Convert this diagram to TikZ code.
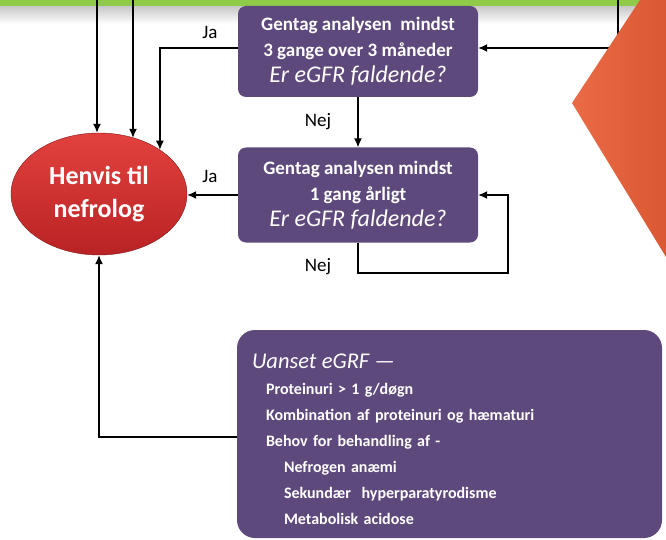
\documentclass[tikz,border=0pt]{standalone}
\usepackage{fontspec}
\setmainfont{Carlito}
\usetikzlibrary{arrows.meta,shapes.geometric}

\definecolor{boxpurple}{RGB}{94,73,125}
\definecolor{balltop}{RGB}{226,66,62}
\definecolor{ballbottom}{RGB}{185,34,36}
\definecolor{barg}{RGB}{143,203,72}
\definecolor{kite}{RGB}{232,94,54}

\newcommand{\askfont}{\fontsize{24}{26}\selectfont\mdseries\itshape}

\tikzset{
  flowbox/.style={fill=boxpurple, rounded corners=8pt, text=white, align=center, inner sep=0pt,
                  font=\fontsize{19}{26}\selectfont\bfseries},
  link/.style={line width=1.3pt, -{Latex[length=9pt,width=8pt]}},
  answer/.style={font=\fontsize{19}{22}\selectfont},
}

\begin{document}
\begin{tikzpicture}[x=1pt,y=-1pt]
\useasboundingbox (0,0) rectangle (666,540);
% top bar with shadow
\shade[top color=black!22, bottom color=white] (0,6) rectangle (666,24);
\fill[barg] (0,0) rectangle (666,6);

% boxes
\node[flowbox, minimum width=240pt, minimum height=91pt] (gentag3) at (358,51.5)
  {Gentag analysen\ \ mindst\\ 3 gange over 3 måneder\\ \askfont Er eGFR faldende?};
\node[flowbox, minimum width=240pt, minimum height=95pt] (gentag1) at (358,195)
  {Gentag analysen mindst\\ 1 gang årligt\\ \askfont Er eGFR faldende?};
\node[flowbox, rounded corners=18pt, minimum width=425pt, minimum height=208pt] (krav) at (449.5,434) {};
\node[anchor=base west, text=white, inner sep=0pt, text width=395pt, align=left,
      font=\fontsize{16}{26}\selectfont\bfseries] (kravtext) at ([xshift=15pt,yshift=-39pt]krav.north west)
  {{\fontsize{22.5}{26}\selectfont\mdseries\itshape Uanset eGRF ---}\\
   \hspace*{14pt}Proteinuri > 1 g/døgn\\
   \hspace*{14pt}Kombination af proteinuri og hæmaturi\\
   \hspace*{14pt}Behov for behandling af -\\
   \hspace*{32pt}Nefrogen anæmi\\
   \hspace*{32pt}Sekundær\ \ hyperparatyrodisme\\
   \hspace*{32pt}Metabolisk acidose};

% circle
\node[ellipse, minimum width=176pt, minimum height=122pt, draw=ballbottom!70!black,
      top color=balltop, bottom color=ballbottom, text=white, align=center,
      font=\fontsize{26}{33}\selectfont\bfseries] (henvis) at (99,194) {Henvis til\\nefrolog};

% connectors
\coordinate (top1) at (97,0); \coordinate (top2) at (133,0); \coordinate (right) at (618,0);
\coordinate (loop) at (508,273);
\draw[link] (top1) -- (top1 |- henvis.north);
\draw[link] (top2) -- (top2 |- henvis.58);
\draw[link] ([yshift=3.5pt]gentag3.west) -| (henvis.36);
\draw[link] (right) |- ([yshift=3.5pt]gentag3.east);
\draw[link] (gentag3.south) -- (gentag1.north);
\draw[link] (gentag1.west) -- (gentag1.west -| henvis.east);
\draw[link] (gentag1.south) |- (loop) |- (gentag1.east);
\draw[link] ([yshift=-3pt]krav.west) -| (henvis.south);

% labels
\node[answer] (ja3) at (210,32) {Ja};
\node[answer] (nej3) at (318,122) {Nej};
\node[answer] (ja1) at (210,176) {Ja};
\node[answer] (nej1) at (318,267) {Nej};

% orange shape at the right
\shade[left color=kite!92!white, right color=kite!94!black] (640,0) -- (572,103) -- (666,257) -- (666,0) -- cycle;
\end{tikzpicture}
\end{document}
